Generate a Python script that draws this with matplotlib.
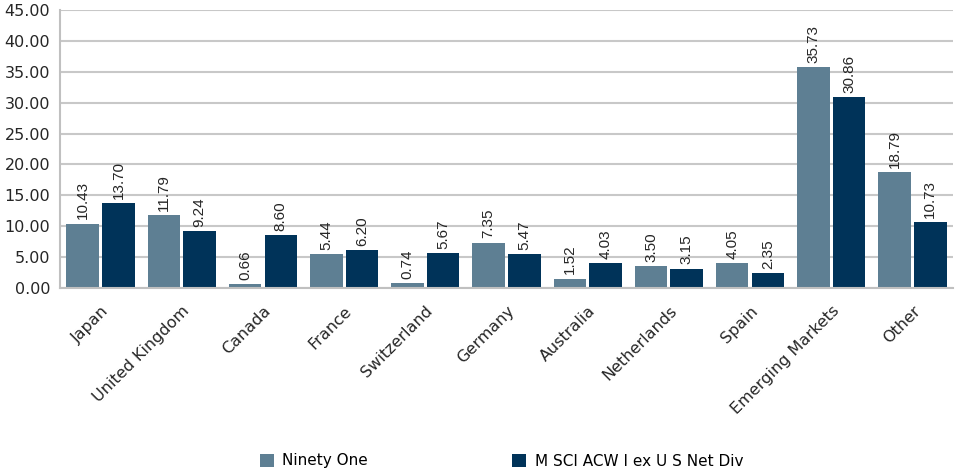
import matplotlib
matplotlib.use("Agg")
import matplotlib.pyplot as plt
import numpy as np

categories = ["Japan", "United Kingdom", "Canada", "France", "Switzerland", "Germany",
              "Australia", "Netherlands", "Spain", "Emerging Markets", "Other"]
ninety_one = [10.43, 11.79, 0.66, 5.44, 0.74, 7.35, 1.52, 3.50, 4.05, 35.73, 18.79]
msci = [13.70, 9.24, 8.60, 6.20, 5.67, 5.47, 4.03, 3.15, 2.35, 30.86, 10.73]
series_names = ["Ninety One", "M SCI ACW I ex U S Net Div"]
yticks = [0, 5, 10, 15, 20, 25, 30, 35, 40, 45]

c1 = "#5E7F93"
c2 = "#003359"
txt = "#262626"

plt.rcParams['font.family'] = ['DejaVu Sans']

fig = plt.figure(figsize=(9.55, 4.74), dpi=100)
ax = fig.add_axes([60/955, 1-288/474, (953-60)/955, (288-10)/474])

x = np.arange(len(categories))
w = 0.40
off = 0.22
b1 = ax.bar(x - off, ninety_one, w, color=c1, label=series_names[0], zorder=2)
b2 = ax.bar(x + off, msci, w, color=c2, label=series_names[1], zorder=2)

for bars, vals in ((b1, ninety_one), (b2, msci)):
    for r, v in zip(bars, vals):
        ax.annotate(f"{v:.2f}", (r.get_x() + r.get_width()/2, v), xytext=(0, 3),
                    textcoords="offset points", rotation=90,
                    ha="center", va="bottom", fontsize=11, color=txt,
                    family=["Liberation Sans"])

ax.set_xlim(-0.5, len(categories) - 0.5)
ax.set_ylim(0, 45)
ax.set_yticks(yticks)
ax.set_yticklabels([f"{t:.2f}" for t in yticks], fontsize=11.5, color=txt)
ax.set_xticks(x)
ax.set_xticklabels(categories, rotation=45, ha="right", va="top", rotation_mode="anchor",
                   fontsize=11.5, color=txt)
ax.tick_params(axis="y", length=0, pad=7)
ax.tick_params(axis="x", length=0, pad=11)
ax.yaxis.grid(True, color="#C8C8C8", linewidth=1.5, zorder=0)
for s in ["top", "right"]:
    ax.spines[s].set_visible(False)
for s in ["left", "bottom"]:
    ax.spines[s].set_color("#C0C0C0")
    ax.spines[s].set_linewidth(1.5)

fig.legend(handles=[b1, b2], labels=series_names, loc="center", ncol=2,
           bbox_to_anchor=(0.525, 1-461/474), frameon=False, fontsize=11,
           handlelength=0.95, handleheight=0.95, columnspacing=9.4, handletextpad=0.55)

fig.savefig("out.png", dpi=100)
